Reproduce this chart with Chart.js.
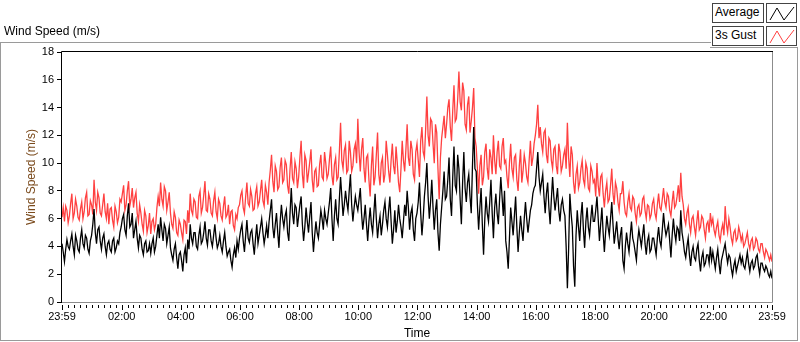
<!DOCTYPE html>
<html>
<head>
<meta charset="utf-8">
<script src="https://cdn.jsdelivr.net/npm/chart.js@4/dist/chart.umd.min.js"></script>
<style>
html,body{margin:0;padding:0;background:#fff;}
#wrap{position:relative;width:800px;height:342px;overflow:hidden;font-family:"Liberation Sans",Arial,sans-serif;background:#fff;}
#c{position:absolute;left:0;top:0;}
.t{position:absolute;font-size:12px;line-height:14px;color:#000;white-space:nowrap;}
.ln{position:absolute;background:#9a9a9a;}
.lg{position:absolute;box-sizing:border-box;border:1px solid #444;background:#fff;font-size:12px;line-height:17px;padding-left:2px;color:#000;white-space:nowrap;}
.ic{position:absolute;box-sizing:border-box;border:1px solid #444;background:#fff;}
.ic svg{position:absolute;left:0;top:0;}
</style>
</head>
<body>
<div id="wrap">
  <canvas id="c" width="800" height="342"></canvas>
  <div class="t" style="left:4px;top:24px;">Wind Speed (m/s)</div>
  <div class="ln" style="left:0;top:42px;width:711px;height:1px;"></div>
  <div class="ln" style="left:0;top:42px;width:1px;height:299px;"></div>
  <div class="ln" style="left:0;top:340px;width:798px;height:1px;"></div>
  <div class="ln" style="left:797px;top:47px;width:1px;height:294px;"></div>
  <div class="ln" style="left:710px;top:47px;width:88px;height:1px;"></div>
  <div class="lg" style="left:712px;top:3px;width:52px;height:20px;">Average</div>
  <div class="ic" style="left:766px;top:3px;width:31px;height:20px;"><svg width="31" height="20"><polyline points="3,16 10,4 17,16 27,3" fill="none" stroke="#000" stroke-width="1"/></svg></div>
  <div class="lg" style="left:712px;top:26px;width:52px;height:20px;">3s Gust</div>
  <div class="ic" style="left:766px;top:26px;width:31px;height:20px;"><svg width="31" height="20"><polyline points="3,16 10,4 17,16 27,3" fill="none" stroke="#ff4040" stroke-width="1"/></svg></div>
</div>
<script>
// ---- data ----
const SAMPLE_MINUTES = 2.5; // one value every 2.5 minutes, starting at 23:59
const tickLabels  = ['23:59','02:00','04:00','06:00','08:00','10:00','12:00','14:00','16:00','18:00','20:00','22:00','23:59'];
const tickMinutes = [0,121,241,361,481,601,721,841,961,1081,1201,1321,1440];
const yTicks = [0,2,4,6,8,10,12,14,16,18];

// Average wind speed (m/s), one row per hour
const avgSpeed = [
  4.2,3.6,2.9,3.8,4.5,4.0,3.8,4.4,4.9,4.0,3.4,4.8,4.4,3.8,3.6,4.6,5.2,4.2,3.9,4.8,4.6,3.8,3.5,4.4,
  4.8,5.6,6.7,5.0,4.2,5.2,5.4,4.4,3.8,4.6,4.9,4.0,3.4,4.2,4.4,3.8,3.6,4.4,4.6,3.6,3.9,4.4,4.2,5.0,
  5.4,6.0,6.3,5.2,4.8,6.2,7.1,5.4,5.6,6.4,4.6,5.2,5.8,4.6,3.9,4.8,4.6,3.8,3.4,4.2,4.4,3.6,3.7,4.2,
  3.5,4.2,4.6,3.6,4.0,4.8,5.6,4.6,6.1,5.2,4.4,5.6,5.3,4.2,4.8,5.4,3.9,3.4,3.0,3.8,4.2,3.2,2.4,3.4,
  3.6,3.0,2.2,3.4,3.9,2.8,4.5,3.8,5.6,4.6,4.2,5.0,5.0,4.0,3.8,4.8,5.4,4.2,4.4,5.0,5.8,4.6,4.1,5.2,
  5.2,4.4,4.0,4.8,5.6,4.6,3.9,4.2,4.8,4.0,3.6,4.4,5.0,4.0,3.3,3.6,3.8,3.0,2.5,3.4,3.9,3.2,4.4,3.8,
  4.6,5.2,5.6,4.4,3.6,4.8,5.9,4.6,4.3,5.0,5.2,4.2,3.4,4.6,5.6,4.2,4.8,5.4,6.0,5.0,4.2,4.8,5.5,4.6,
  5.8,6.6,7.4,5.4,4.6,5.6,6.4,5.0,3.9,5.8,7.0,6.0,5.4,6.2,6.6,5.0,4.4,6.4,8.2,6.4,5.6,7.0,6.8,5.4,
  6.2,7.0,7.6,5.6,4.4,5.4,6.8,5.8,5.0,6.2,7.2,5.0,3.6,4.8,5.8,5.0,4.6,5.6,6.6,6.0,5.2,6.6,6.0,5.6,
  6.4,7.2,8.2,6.0,4.4,6.2,7.4,6.0,5.6,7.4,9.0,7.6,6.2,7.0,8.0,7.2,6.6,8.0,9.2,7.0,5.8,6.8,7.6,7.0,
  6.6,7.4,8.2,6.4,5.2,6.0,7.0,5.6,4.4,5.8,6.8,5.6,5.0,6.4,7.8,6.0,4.6,5.6,6.2,4.8,5.6,6.6,7.2,6.0,
  5.4,6.6,7.6,5.8,4.2,5.2,6.6,5.0,5.8,7.0,6.0,5.4,4.6,5.8,7.0,6.2,8.0,6.8,5.2,6.4,6.8,5.2,4.4,6.0,
  6.4,7.2,8.6,6.4,4.8,6.0,7.6,8.6,10.0,7.6,6.0,7.2,8.8,6.8,5.2,6.6,7.4,5.0,3.7,5.6,6.8,8.0,9.4,7.4,
  7.6,8.8,10.4,7.4,6.2,9.0,11.2,8.4,8.0,10.6,9.6,7.4,5.6,8.6,10.8,8.2,7.2,8.6,9.2,7.6,6.4,9.8,12.6,9.6,
  9.4,7.0,5.2,6.8,8.2,5.6,3.4,6.0,7.6,6.4,5.8,7.2,8.8,6.4,4.6,6.8,7.8,6.4,5.6,7.4,9.0,7.6,6.2,8.0,
  4.4,3.6,2.4,4.6,6.8,5.8,4.8,6.2,7.6,5.4,3.6,5.0,6.2,5.2,4.4,6.0,7.2,6.0,5.0,5.8,6.6,7.0,7.8,8.2,
  8.4,9.6,10.8,9.0,8.0,8.6,9.2,7.6,6.4,7.8,8.6,6.8,5.6,7.4,9.0,7.6,6.6,7.4,8.2,6.6,5.8,7.0,7.4,6.6,
  6.2,4.0,1.0,3.8,7.8,6.4,5.4,2.6,1.1,4.8,6.6,5.4,4.4,6.2,7.2,5.2,3.9,5.8,6.8,5.4,4.8,6.0,7.0,5.8,
  5.8,6.6,7.6,6.0,4.4,5.6,6.8,5.0,3.6,5.0,6.2,5.4,4.8,6.0,7.2,5.6,4.2,5.0,5.8,4.6,3.8,4.8,5.4,3.0,
  2.4,4.0,5.0,4.2,3.6,4.8,5.8,4.6,4.2,3.6,3.0,4.4,5.2,4.6,4.0,4.8,5.6,4.2,3.4,4.4,4.8,3.6,3.8,4.6,
  4.6,4.0,3.4,4.6,5.4,4.4,4.0,5.2,6.4,5.4,4.8,5.2,5.6,4.4,3.2,4.8,6.0,5.0,4.4,5.4,5.2,4.4,6.6,5.0,
  4.4,3.6,3.2,4.0,4.6,3.4,2.6,3.6,4.0,3.2,3.0,3.8,4.2,3.0,2.2,3.2,3.6,2.6,2.8,3.4,3.4,2.8,4.0,3.0,
  3.6,3.0,2.4,3.2,3.8,2.8,2.0,3.0,3.4,3.8,4.2,3.4,2.8,3.4,3.2,2.4,1.9,2.6,3.0,2.2,2.6,3.0,3.4,2.8,
  3.2,2.6,2.4,3.0,3.6,2.8,2.2,2.8,3.0,2.4,2.6,3.2,3.4,2.6,2.0,2.8,2.8,2.4,2.2,2.6,2.4,2.0,1.8,2.2,
  1.7
];

// 3 s gust wind speed (m/s), one row per hour
const gustSpeed = [
  6.1,6.8,5.8,6.9,6.6,5.7,6.2,7.1,7.8,6.0,6.4,7.4,6.9,6.1,5.9,6.7,7.2,6.0,6.5,7.5,7.9,6.2,6.3,7.3,
  7.0,6.3,8.8,7.2,6.6,7.9,7.5,6.4,6.2,7.0,7.8,6.5,6.0,7.1,5.6,6.7,6.8,5.9,5.4,6.9,6.5,5.7,6.1,7.4,
  7.2,7.8,8.4,6.6,7.0,8.0,8.7,6.9,7.4,8.2,6.8,7.5,7.9,6.4,5.8,7.0,6.4,5.6,5.1,6.6,6.2,5.0,5.5,6.4,
  4.9,5.8,6.0,5.2,5.6,6.8,7.6,6.9,8.6,7.4,6.9,8.3,8.0,6.6,7.2,7.9,6.4,5.6,5.3,6.5,6.1,5.0,4.8,5.9,
  5.6,5.0,4.5,5.9,5.8,4.9,6.6,5.7,7.8,6.6,6.3,7.4,7.2,6.1,6.0,7.6,8.0,6.4,6.8,7.7,8.7,6.6,6.5,7.8,
  7.4,6.4,6.2,7.3,7.9,6.5,6.0,7.4,7.1,6.2,5.9,6.9,7.6,6.1,6.3,7.0,5.6,6.5,6.6,5.5,5.2,6.3,6.0,6.8,
  7.0,7.7,8.0,6.8,6.4,7.6,8.6,7.1,6.9,8.1,7.6,6.6,6.7,7.8,8.3,6.9,7.2,8.0,8.8,7.3,6.9,8.4,7.9,7.0,
  8.6,9.5,10.6,8.7,7.9,9.8,9.4,8.1,8.3,9.7,10.4,8.6,8.8,10.2,9.9,8.4,7.8,9.6,10.8,8.9,8.6,10.1,9.6,8.2,
  9.0,10.4,11.6,9.2,8.2,10.6,10.2,8.6,9.3,10.1,11.0,8.8,7.9,9.4,9.6,8.3,8.4,9.9,10.6,9.0,8.8,10.8,10.0,8.9,
  9.2,10.3,11.2,9.1,8.4,9.9,10.4,8.8,9.0,10.8,12.9,10.2,9.6,10.9,11.3,9.3,9.5,11.6,10.8,9.4,9.8,11.0,11.4,10.0,
  13.2,10.8,9.4,11.0,11.8,9.6,8.6,10.4,10.6,8.8,7.6,9.8,11.2,8.4,9.0,10.6,12.2,9.2,8.4,10.0,10.4,8.6,9.2,11.6,
  10.6,9.4,8.6,10.2,11.4,9.8,9.2,11.2,10.0,8.6,7.9,9.6,11.6,10.2,9.4,11.0,12.8,10.4,9.8,11.6,11.0,9.2,8.8,10.8,
  11.4,10.2,9.0,11.6,12.6,10.8,10.4,12.4,14.8,12.0,11.2,13.2,13.0,11.4,10.0,12.8,12.2,9.6,7.4,10.4,11.8,12.6,13.4,11.8,
  12.8,14.0,14.6,12.6,11.6,13.8,15.6,13.0,13.2,14.6,16.6,14.4,13.8,15.8,15.2,12.8,12.4,14.2,14.8,12.2,13.0,14.0,15.4,11.8,
  11.2,9.6,7.8,9.8,10.6,8.4,9.0,10.8,11.4,9.6,8.8,11.0,10.4,9.2,12.0,10.2,9.2,10.8,11.6,9.8,9.6,11.2,11.8,10.0,
  10.2,9.0,8.2,10.0,11.4,9.6,9.0,10.4,10.6,8.8,8.0,9.8,11.0,8.6,9.4,10.6,10.0,9.0,8.6,10.2,11.6,9.8,10.4,11.4,
  12.0,12.8,14.2,11.8,12.6,11.4,10.8,12.2,12.4,10.6,10.0,11.8,11.6,10.2,9.6,11.0,11.2,9.8,9.2,11.4,10.8,9.4,9.8,10.6,
  11.0,9.6,12.9,10.4,9.0,11.2,10.6,8.6,7.8,9.2,9.8,8.2,8.6,9.6,10.2,8.8,8.4,10.0,9.6,8.2,8.0,9.8,9.4,8.6,
  8.8,7.6,10.0,8.4,7.6,9.0,9.2,7.8,6.8,8.0,8.6,7.2,7.4,8.4,9.6,7.8,7.0,8.6,8.2,7.2,6.6,7.8,7.8,8.7,
  7.2,6.4,6.2,7.2,7.8,6.8,6.6,7.6,7.4,6.4,5.8,6.8,7.0,6.2,6.4,7.4,7.6,6.6,6.0,7.0,6.9,6.0,6.3,7.1,
  7.4,6.4,6.0,7.0,7.8,6.8,6.6,7.4,8.2,7.2,6.8,7.8,7.6,6.6,6.2,7.2,8.0,6.8,7.0,7.6,8.4,7.2,9.3,7.6,
  7.0,6.0,5.6,6.4,6.8,5.6,5.0,6.0,6.2,5.4,4.8,5.8,6.6,5.2,5.4,6.2,6.0,5.2,4.6,5.6,5.8,5.0,6.4,5.6,
  6.0,5.2,4.8,5.4,5.8,4.8,4.4,5.2,5.6,4.8,6.9,5.6,5.0,6.0,5.4,4.6,4.2,5.0,5.2,4.4,4.6,5.4,5.0,4.4,
  4.8,4.0,4.2,4.6,5.0,4.2,3.8,4.4,4.6,3.8,4.0,4.6,4.4,3.8,3.6,4.2,4.2,3.6,3.2,3.8,3.6,3.3,3.0,3.4,
  2.9
];

const toPoints = arr => arr.map((v, i) => ({ x: i * SAMPLE_MINUTES, y: v }));

const axisPlugin = {
  id: 'labviewAxes',
  afterDraw(chart) {
    const { ctx, chartArea: a, scales: { x } } = chart;
    ctx.save();
    ctx.lineWidth = 1;
    ctx.strokeStyle = '#000';
    ctx.beginPath();
    tickMinutes.forEach(m => {
      const px = Math.round(x.getPixelForValue(m)) + 0.5;
      ctx.moveTo(px, a.bottom + 3); ctx.lineTo(px, a.bottom + 8);
    });
    for (let m = 1; m < 1440; m += 12) {
      if (tickMinutes.some(t => Math.abs(t - m) < 4)) continue;
      const px = Math.round(x.getPixelForValue(m)) + 0.5;
      ctx.moveTo(px, a.bottom + 3); ctx.lineTo(px, a.bottom + 6);
    }
    ctx.stroke();
    ctx.strokeStyle = '#000';
    ctx.beginPath();
    ctx.moveTo(a.left - 0.5, a.bottom + 1); ctx.lineTo(a.left - 0.5, a.top - 0.5); ctx.lineTo(a.right + 1, a.top - 0.5);
    ctx.stroke();
    ctx.strokeStyle = '#8c8c8c';
    ctx.beginPath();
    ctx.moveTo(a.right + 0.5, a.top); ctx.lineTo(a.right + 0.5, a.bottom + 0.5); ctx.lineTo(a.left, a.bottom + 0.5);
    ctx.stroke();
    ctx.restore();
  }
};

new Chart(document.getElementById('c'), {
  type: 'line',
  data: {
    datasets: [
      { label: 'Average', data: toPoints(avgSpeed), borderColor: '#000000', borderWidth: 1.3, pointRadius: 0, tension: 0, fill: false },
      { label: '3s Gust', data: toPoints(gustSpeed), borderColor: '#ff4040', borderWidth: 1.3, pointRadius: 0, tension: 0, fill: false }
    ]
  },
  options: {
    responsive: false,
    animation: false,
    events: [],
    layout: { padding: { top: 52, right: 28, left: 0, bottom: 0 } },
    plugins: { legend: { display: false }, tooltip: { enabled: false } },
    scales: {
      x: {
        type: 'linear', min: 0, max: 1440,
        afterBuildTicks: s => { s.ticks = tickMinutes.map(v => ({ value: v })); },
        afterFit: s => { s.height = 40; },
        grid: { display: false, drawTicks: false },
        border: { display: false },
        ticks: { autoSkip: false, maxRotation: 0, padding: 8, color: '#000',
                 font: { family: '"Liberation Sans", Arial, sans-serif', size: 11 },
                 callback: (v, i) => tickLabels[i] },
        title: { display: true, text: 'Time', color: '#000', padding: { top: 0, bottom: 1 },
                 font: { family: '"Liberation Sans", Arial, sans-serif', size: 12 } }
      },
      y: {
        min: 0, max: 18,
        afterBuildTicks: s => { s.ticks = yTicks.map(v => ({ value: v })); },
        afterFit: s => { s.width = 62; },
        grid: { drawOnChartArea: false, drawTicks: true, tickLength: 5, color: '#000' },
        border: { display: false },
        ticks: { padding: 3, color: '#000',
                 font: { family: '"Liberation Sans", Arial, sans-serif', size: 11 } },
        title: { display: true, text: 'Wind Speed (m/s)', color: '#7a4a1c', padding: { top: 24, bottom: 0 },
                 font: { family: '"Liberation Sans", Arial, sans-serif', size: 12 } }
      }
    }
  },
  plugins: [axisPlugin]
});
</script>
</body>
</html>
